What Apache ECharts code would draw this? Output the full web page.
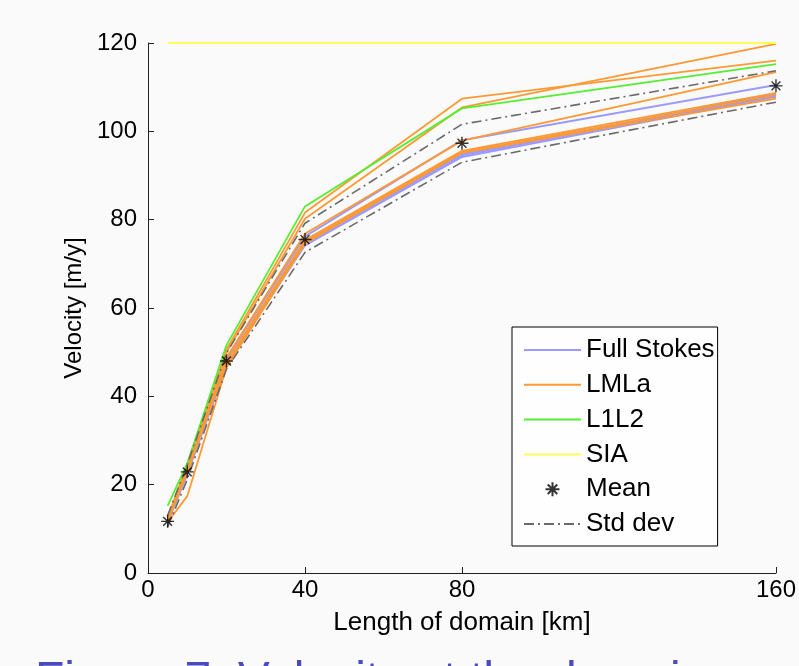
<!DOCTYPE html>
<html>
<head>
<meta charset="utf-8">
<script src="https://cdn.jsdelivr.net/npm/echarts@6/dist/echarts.min.js"></script>
<style>
  html, body { margin: 0; padding: 0; background: #fafafa; }
  #chart { width: 799px; height: 666px; }
</style>
</head>
<body>
<div id="chart"></div>
<script>
// Domain lengths [km] shared by every run
const domainLength = [5, 10, 20, 40, 80, 160];

// Surface velocity [m/y] per model run
const fullStokesRuns = [
  [12.0, 23.6, 48.6, 76.2, 98.0, 110.5],
  [11.6, 23.0, 47.6, 75.0, 95.0, 108.3],
  [11.8, 23.2, 47.9, 74.6, 94.6, 108.0],
  [12.2, 22.7, 47.2, 74.2, 94.2, 107.8],
  [11.4, 22.4, 46.9, 74.8, 94.8, 108.5]
];
const lmlaRuns = [
  [12.6, 24.2, 50.6, 81.6, 107.4, 116.0],
  [12.4, 24.6, 50.0, 80.2, 105.4, 119.8],
  [12.0, 23.4, 48.8, 76.8, 97.9, 113.4],
  [11.7, 23.1, 47.8, 75.4, 95.6, 108.7],
  [11.5, 17.4, 46.6, 74.6, 95.1, 107.4],
  [11.9, 22.8, 47.4, 75.0, 95.3, 108.2]
];
const l1l2Runs = [
  [15.2, 24.8, 51.6, 83.0, 105.2, 115.2]
];
const siaRuns = [
  [120, 120, 120, 120, 120, 120]
];
const meanVelocity = [11.7, 22.9, 48.0, 75.5, 97.3, 110.3];
const stdUpper = [13.0, 24.6, 49.8, 79.2, 101.6, 113.7];
const stdLower = [10.4, 21.2, 46.2, 72.6, 93.0, 106.6];

// Axis ticks
const xTicks = [0, 40, 80, 160];
const lineNames = ['Full Stokes', 'LMLa', 'L1L2', 'SIA'];

const FONT = 'Liberation Sans, Arial, Helvetica, sans-serif';
const asterisk = 'path://M5,0L5,10M0,5L10,5M1.6,1.6L8.4,8.4M1.6,8.4L8.4,1.6';

const pairs = vals => domainLength.map((x, i) => [x, vals[i]]);

function runSeries(name, runs, color, width) {
  return runs.map(r => ({
    type: 'line',
    name: name,
    data: pairs(r),
    symbol: 'none',
    showSymbol: false,
    lineStyle: { color: color, width: width },
    itemStyle: { color: color },
    silent: true,
    animation: false
  }));
}

const stdStyle = { color: '#6a6a6a', width: 1.6, type: [10, 4, 2, 4] };
function stdSeries(vals) {
  return {
    type: 'line',
    name: 'Std dev',
    data: pairs(vals),
    symbol: 'none',
    showSymbol: false,
    lineStyle: stdStyle,
    itemStyle: { color: '#6a6a6a' },
    silent: true,
    animation: false
  };
}

const series = [].concat(
  runSeries('Full Stokes', fullStokesRuns, '#9b9bff', 2),
  runSeries('LMLa', lmlaRuns, '#ff9933', 1.8),
  runSeries('L1L2', l1l2Runs, '#55ee33', 1.8),
  runSeries('SIA', siaRuns, '#ffff55', 2),
  [stdSeries(stdUpper), stdSeries(stdLower)],
  [{
    type: 'scatter',
    name: 'Mean',
    data: pairs(meanVelocity),
    symbol: asterisk,
    symbolSize: 13,
    itemStyle: { color: '#000', borderColor: '#000', borderWidth: 1.4 },
    silent: true,
    animation: false,
    z: 5
  }]
);

// Legend rows: plain line samples, an asterisk for the mean, dash-dot for std dev
const legendData = lineNames.map(n => ({ name: n, itemStyle: { opacity: 0 } }))
  .concat([{ name: 'Mean' }, { name: 'Std dev', itemStyle: { opacity: 0 } }]);

const chart = echarts.init(document.getElementById('chart'), null, { renderer: 'canvas' });
chart.setOption({
  backgroundColor: '#fafafa',
  animation: false,
  grid: { left: 148, right: 21, top: 43, bottom: 93, containLabel: false },
  xAxis: {
    type: 'value',
    min: 0,
    max: 160,
    name: 'Length of domain [km]',
    nameLocation: 'middle',
    nameGap: 37,
    nameTextStyle: { fontFamily: FONT, fontSize: 26, color: '#000' },
    axisLine: { show: true, lineStyle: { color: '#222', width: 1 } },
    axisTick: { show: true, inside: true, length: 6, customValues: xTicks, lineStyle: { color: '#222' } },
    axisLabel: { customValues: xTicks, margin: 5, fontFamily: FONT, fontSize: 24, color: '#000' },
    splitLine: { show: false }
  },
  yAxis: {
    type: 'value',
    min: 0,
    max: 120,
    interval: 20,
    name: 'Velocity [m/y]',
    nameLocation: 'middle',
    nameGap: 57,
    nameTextStyle: { fontFamily: FONT, fontSize: 24, color: '#000' },
    axisLine: { show: true, lineStyle: { color: '#222', width: 1 } },
    axisTick: { show: true, inside: true, length: 6, lineStyle: { color: '#222' } },
    axisLabel: { margin: 11, fontFamily: FONT, fontSize: 24, color: '#000' },
    splitLine: { show: false }
  },
  legend: {
    data: legendData,
    orient: 'vertical',
    left: 512,
    top: 327,
    padding: [10, 3, 9, 11],
    itemGap: 8.8,
    itemWidth: 57,
    itemHeight: 14,
    selectedMode: false,
    backgroundColor: '#fefefe',
    borderColor: '#000',
    borderWidth: 1,
    borderRadius: 0,
    textStyle: { fontFamily: FONT, fontSize: 26, color: '#000' }
  },
  graphic: [{
    type: 'text',
    left: 35,
    top: 658,
    silent: true,
    style: {
      text: 'Figure 7: Velocity at the domain centre',
      fontFamily: FONT,
      fontSize: 48,
      fill: '#4b4bbd'
    }
  }],
  series: series
});
</script>
</body>
</html>
